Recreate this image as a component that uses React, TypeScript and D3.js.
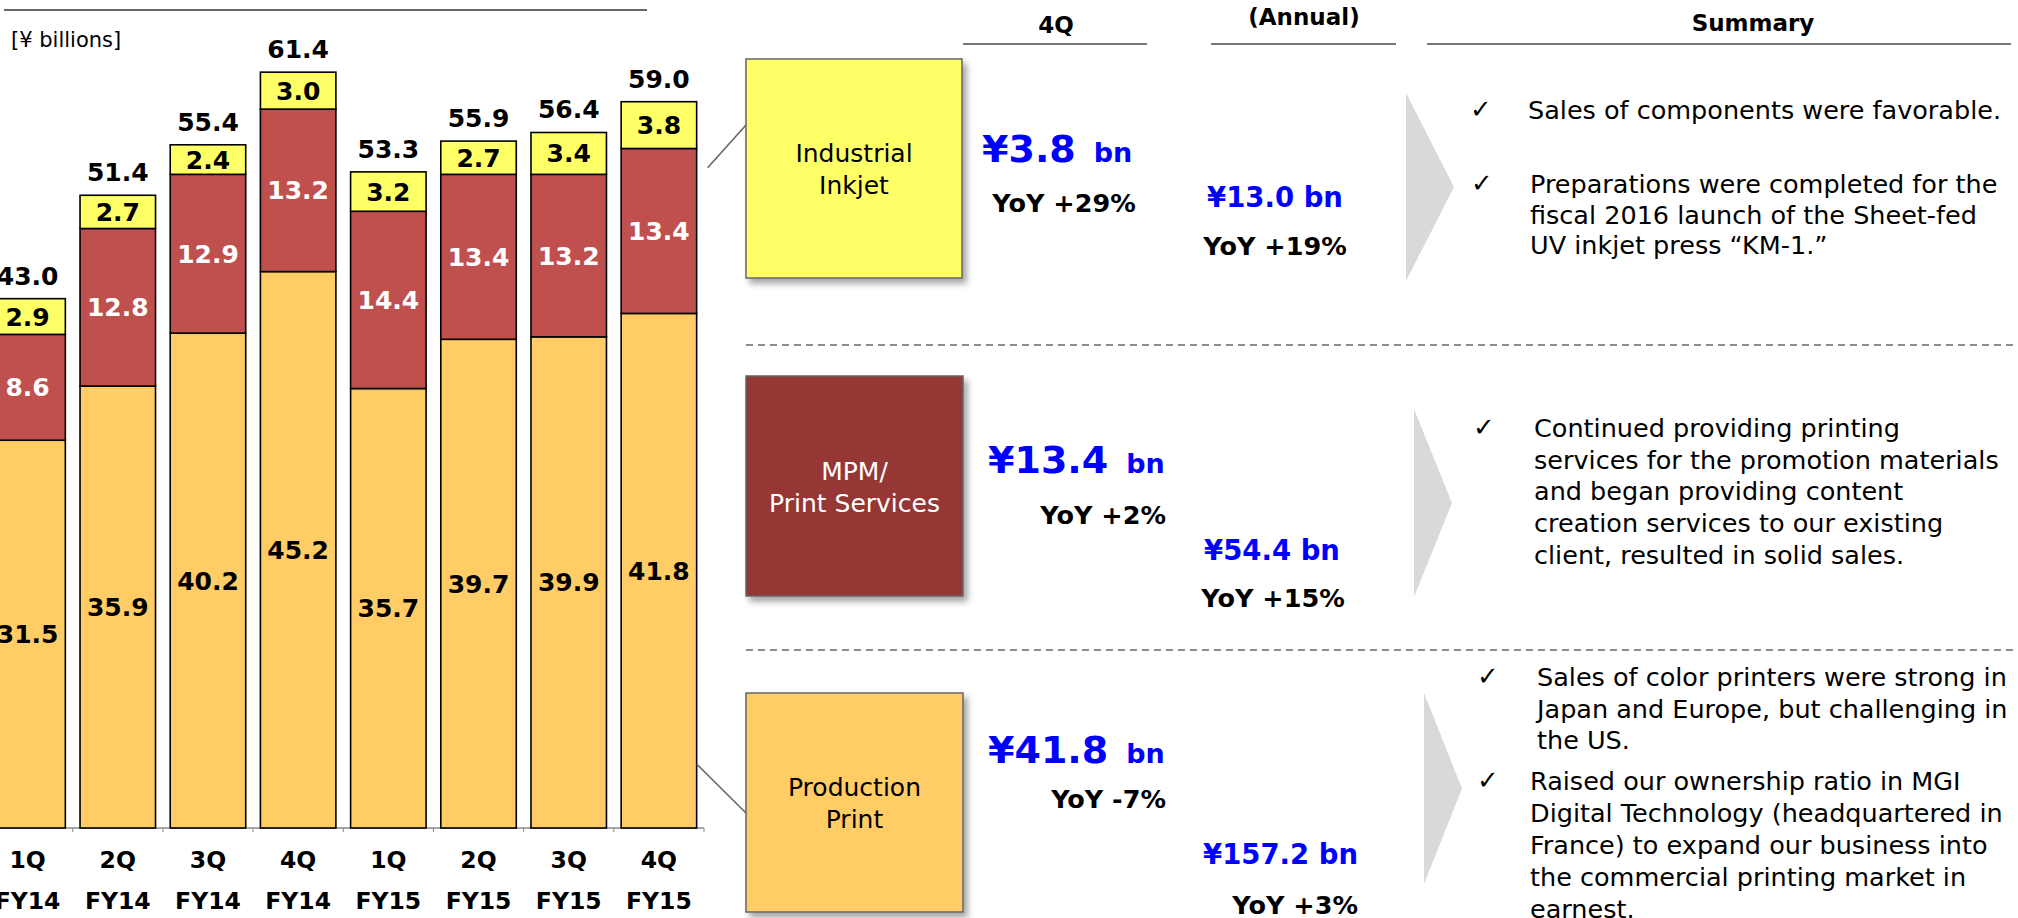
import React from "react";
import * as d3 from "d3";

// ---------- data ----------
const quarters = ["1Q", "2Q", "3Q", "4Q", "1Q", "2Q", "3Q", "4Q"];
const fiscalYears = ["FY14", "FY14", "FY14", "FY14", "FY15", "FY15", "FY15", "FY15"];
const productionPrint = [31.5, 35.9, 40.2, 45.2, 35.7, 39.7, 39.9, 41.8];
const mpmPrintServices = [8.6, 12.8, 12.9, 13.2, 14.4, 13.4, 13.2, 13.4];
const industrialInkjet = [2.9, 2.7, 2.4, 3.0, 3.2, 2.7, 3.4, 3.8];
const totals = [43.0, 51.4, 55.4, 61.4, 53.3, 55.9, 56.4, 59.0];
const unitLabel = "[¥ billions]";

const headerLabels = ["4Q", "(Annual)", "Summary"];
const segmentBoxLines = [["Industrial", "Inkjet"], ["MPM/", "Print Services"], ["Production", "Print"]];
const q4Amounts = ["¥3.8", "¥13.4", "¥41.8"];
const q4YoY = ["YoY +29%", "YoY +2%", "YoY -7%"];
const annualAmounts = ["¥13.0 bn", "¥54.4 bn", "¥157.2 bn"];
const annualYoY = ["YoY +19%", "YoY +15%", "YoY +3%"];
const summaryItems = [
  ["Sales of components were favorable."],
  ["Preparations were completed for the", "fiscal 2016 launch of the Sheet-fed", "UV inkjet press \u201CKM-1.\u201D"],
  ["Continued providing printing", "services for the promotion materials", "and began providing content", "creation services to our existing", "client, resulted in solid sales."],
  ["Sales of color printers were strong in", "Japan and Europe, but challenging in", "the US."],
  ["Raised our ownership ratio in MGI", "Digital Technology (headquartered in", "France) to expand our business into", "the commercial printing market in", "earnest."],
];

// ---------- styles / layout ----------
const FONT = "'DejaVu Sans', Verdana, sans-serif";
const seriesKeys = ["production", "mpm", "inkjet"];
const seriesFill: Record<string, string> = { production: "#FFCC66", mpm: "#C0504D", inkjet: "#FFFF66" };
const seriesText: Record<string, string> = { production: "#000", mpm: "#fff", inkjet: "#000" };
const boxFill = ["#FFFF66", "#953735", "#FFCC66"];
const boxText = ["#000", "#fff", "#000"];
const BASE_Y = 828;

const boxLayout = [
  { x: 746, y: 59, w: 216, h: 219 },
  { x: 746, y: 376, w: 217, h: 220 },
  { x: 746, y: 693, w: 217, h: 219 },
];
const q4AmtLayout = [
  { x: 982, y: 162 },
  { x: 988, y: 473 },
  { x: 988, y: 763 },
];
const q4YoYLayout = [
  { x: 1064, y: 212, a: "middle" },
  { x: 1166, y: 524, a: "end" },
  { x: 1166, y: 808, a: "end" },
];
const annAmtLayout = [
  { x: 1275, y: 207, a: "middle" },
  { x: 1272, y: 560, a: "middle" },
  { x: 1358, y: 864, a: "end" },
];
const annYoYLayout = [
  { x: 1275, y: 255, a: "middle" },
  { x: 1273, y: 607, a: "middle" },
  { x: 1358, y: 914, a: "end" },
];
const summaryLayout = [
  { cx: 1481, tx: 1528, y: 119, lh: 31 },
  { cx: 1482, tx: 1530, y: 193, lh: 30.5 },
  { cx: 1484, tx: 1534, y: 437, lh: 31.7 },
  { cx: 1488, tx: 1537, y: 686, lh: 31.5 },
  { cx: 1488, tx: 1530, y: 790, lh: 32 },
];
const chevrons = [
  { l: 1406, t: 93, b: 281, tip: 1454 },
  { l: 1414, t: 409, b: 597, tip: 1452 },
  { l: 1424, t: 693, b: 884, tip: 1462 },
];

export default function App() {
  const categories = quarters.map((q, i) => `${q} ${fiscalYears[i]}`);
  const rows = categories.map((c, i) => ({
    cat: c,
    production: productionPrint[i],
    mpm: mpmPrintServices[i],
    inkjet: industrialInkjet[i],
  }));
  const x = d3.scaleBand<string>().domain(categories).range([-17.5, 704]).paddingInner(0.163).paddingOuter(0.0815);
  const y = d3.scaleLinear().domain([0, 65]).range([BASE_Y, BASE_Y - 65 * 12.31]);
  const stack = d3.stack<any>().keys(seriesKeys)(rows);
  const bw = x.bandwidth();
  const step = x.step();
  const lastCat = categories[categories.length - 1];
  const lastRight = (x(lastCat) as number) + bw;
  const lastTop = y(stack[2][7][1]);

  return (
    <svg width={2018} height={918} style={{ position: "absolute", left: 0, top: 0, display: "block", background: "#fff" }} fontFamily={FONT}>
      <defs>
        <filter id="sh" x="-10%" y="-10%" width="130%" height="130%">
          <feDropShadow dx={4} dy={5} stdDeviation={3} floodColor="#000" floodOpacity={0.35} />
        </filter>
      </defs>

      {/* top rule and unit */}
      <line x1={4} x2={647} y1={10} y2={10} stroke="#666" strokeWidth={2} />
      <text x={11} y={47} fontSize={21} fill="#000">{unitLabel}</text>

      {/* axis baseline and ticks */}
      <line x1={0} x2={704} y1={BASE_Y} y2={BASE_Y} stroke="#8a8a8a" strokeWidth={1.5} />
      {categories.map((c, i) => {
        const tx = (x(c) as number) + bw + (step - bw) / 2;
        return <line key={"tk" + i} x1={tx} x2={tx} y1={BASE_Y} y2={BASE_Y + 4} stroke="#8a8a8a" strokeWidth={1} />;
      })}

      {/* bars */}
      {stack.map((s) => (
        <g key={s.key}>
          {s.map((d, i) => (
            <rect
              key={i}
              x={x(categories[i])}
              y={y(d[1])}
              width={bw}
              height={y(d[0]) - y(d[1])}
              fill={seriesFill[s.key]}
              stroke="#000"
              strokeWidth={1.6}
            />
          ))}
        </g>
      ))}
      {/* segment labels */}
      {stack.map((s) => (
        <g key={"l" + s.key}>
          {s.map((d, i) => (
            <text
              key={i}
              x={(x(categories[i]) as number) + bw / 2}
              y={(y(d[0]) + y(d[1])) / 2}
              dy="0.36em"
              textAnchor="middle"
              fontSize={25}
              fontWeight="bold"
              fill={seriesText[s.key]}
            >
              {(d[1] - d[0]).toFixed(1)}
            </text>
          ))}
        </g>
      ))}
      {/* totals */}
      {totals.map((t, i) => (
        <text
          key={"t" + i}
          x={(x(categories[i]) as number) + bw / 2}
          y={y(stack[2][i][1]) - 14}
          textAnchor="middle"
          fontSize={25}
          fontWeight="bold"
          fill="#000"
        >
          {t.toFixed(1)}
        </text>
      ))}
      {/* x labels */}
      {categories.map((c, i) => (
        <g key={"x" + i}>
          <text x={(x(c) as number) + bw / 2} y={868} textAnchor="middle" fontSize={23.5} fontWeight="bold">{quarters[i]}</text>
          <text x={(x(c) as number) + bw / 2} y={909} textAnchor="middle" fontSize={23.5} fontWeight="bold">{fiscalYears[i]}</text>
        </g>
      ))}

      {/* connectors */}
      <line x1={lastRight + 11} y1={lastTop + 66} x2={boxLayout[0].x} y2={125} stroke="#666" strokeWidth={1.6} />
      <line x1={lastRight} y1={764} x2={boxLayout[2].x} y2={813} stroke="#666" strokeWidth={1.6} />

      {/* headers */}
      <text x={1056} y={33} textAnchor="middle" fontSize={23} fontWeight="bold">{headerLabels[0]}</text>
      <line x1={963} x2={1147} y1={44} y2={44} stroke="#777" strokeWidth={2} />
      <text x={1304} y={25} textAnchor="middle" fontSize={23} fontWeight="bold">{headerLabels[1]}</text>
      <line x1={1211} x2={1396} y1={44} y2={44} stroke="#777" strokeWidth={2} />
      <text x={1753} y={31} textAnchor="middle" fontSize={23} fontWeight="bold">{headerLabels[2]}</text>
      <line x1={1427} x2={2011} y1={44} y2={44} stroke="#777" strokeWidth={2} />

      {/* dashed separators */}
      <line x1={746} x2={2018} y1={345} y2={345} stroke="#8c8c8c" strokeWidth={2} strokeDasharray="7 5" />
      <line x1={746} x2={2018} y1={650} y2={650} stroke="#8c8c8c" strokeWidth={2} strokeDasharray="7 5" />

      {/* segment boxes */}
      {boxLayout.map((b, i) => {
        const cy = b.y + b.h / 2;
        return (
          <g key={"b" + i}>
            <rect x={b.x} y={b.y} width={b.w} height={b.h} fill={boxFill[i]} stroke="#666" strokeWidth={1.5} filter="url(#sh)" />
            {segmentBoxLines[i].map((ln, j) => (
              <text key={j} x={b.x + b.w / 2} y={cy - 6.5 + j * 32} textAnchor="middle" fontSize={25} fill={boxText[i]}>
                {ln}
              </text>
            ))}
          </g>
        );
      })}

      {/* 4Q amounts */}
      {q4Amounts.map((a, i) => (
        <text key={"qa" + i} x={q4AmtLayout[i].x} y={q4AmtLayout[i].y} fontSize={38} fontWeight="bold" fill="#0000FF">
          {a}
          <tspan dx={18} fontSize={27}>bn</tspan>
        </text>
      ))}
      {q4YoY.map((a, i) => (
        <text key={"qy" + i} x={q4YoYLayout[i].x} y={q4YoYLayout[i].y} textAnchor={q4YoYLayout[i].a as any} fontSize={25.5} fontWeight="bold" fill="#000">
          {a}
        </text>
      ))}
      {annualAmounts.map((a, i) => (
        <text key={"aa" + i} x={annAmtLayout[i].x} y={annAmtLayout[i].y} textAnchor={annAmtLayout[i].a as any} fontSize={27.5} fontWeight="bold" fill="#0000FF">
          {a}
        </text>
      ))}
      {annualYoY.map((a, i) => (
        <text key={"ay" + i} x={annYoYLayout[i].x} y={annYoYLayout[i].y} textAnchor={annYoYLayout[i].a as any} fontSize={25.5} fontWeight="bold" fill="#000">
          {a}
        </text>
      ))}

      {/* chevrons */}
      {chevrons.map((c, i) => (
        <polygon key={"c" + i} points={`${c.l},${c.t} ${c.tip},${(c.t + c.b) / 2} ${c.l},${c.b}`} fill="#D9D9D9" />
      ))}

      {/* summary */}
      {summaryItems.map((lines, i) => {
        const L = summaryLayout[i];
        return (
          <g key={"s" + i}>
            <text x={L.cx} y={L.y - 1} textAnchor="middle" fontSize={26} fill="#000">{"\u2713"}</text>
            {lines.map((ln, j) => (
              <text key={j} x={L.tx} y={L.y + j * L.lh} fontSize={25.5} fill="#000">{ln}</text>
            ))}
          </g>
        );
      })}
    </svg>
  );
}
